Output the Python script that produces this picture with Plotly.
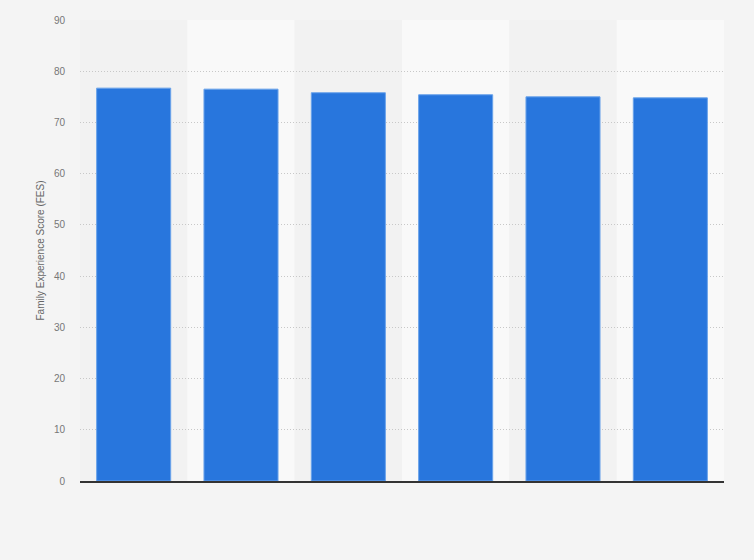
import plotly.graph_objects as go

# categories are not labelled in the source picture
categories = ["A", "B", "C", "D", "E", "F"]
fes_scores = [76.7, 76.5, 75.8, 75.4, 75.0, 74.8]
y_ticks = [0, 10, 20, 30, 40, 50, 60, 70, 80, 90]

fig = go.Figure()
fig.add_trace(go.Bar(
    x=categories, y=fes_scores,
    marker=dict(color="#2876dd", line=dict(color="#6aa3ea", width=1)),
    width=0.69,
))

# alternating column bands
shapes = []
for i in range(len(categories)):
    shapes.append(dict(
        type="rect", xref="x", yref="paper",
        x0=i - 0.5, x1=i + 0.5, y0=0, y1=1,
        fillcolor="#f9f9f9" if i % 2 else "#f2f2f2",
        line=dict(width=0), layer="below",
    ))

fig.update_layout(
    width=754, height=560,
    margin=dict(l=80, r=30, t=20, b=79),
    paper_bgcolor="#f4f4f4", plot_bgcolor="#f4f4f4",
    shapes=shapes,
    showlegend=False,
    bargap=0.31,
    font=dict(family="Arial, Liberation Sans, sans-serif", color="#666666"),
)
fig.update_xaxes(
    showticklabels=False, showgrid=False, ticks="",
    showline=True, linecolor="#333333", linewidth=1.5,
    range=[-0.5, len(categories) - 0.5],
)
fig.update_yaxes(
    range=[0, 90], tickvals=y_ticks,
    showgrid=True, gridcolor="#c8c8c8", griddash="1px,2px", gridwidth=1,
    zeroline=False, showline=False,
    tickfont=dict(size=10, color="#777777"), ticklen=0, ticks="",
    ticklabelstandoff=14,
    title=dict(text="Family Experience Score (FES)", font=dict(size=10, color="#666666"), standoff=7),
)

fig.write_html("out.html", config={"displayModeBar": False},
               post_script="document.body.style.margin='0';")
